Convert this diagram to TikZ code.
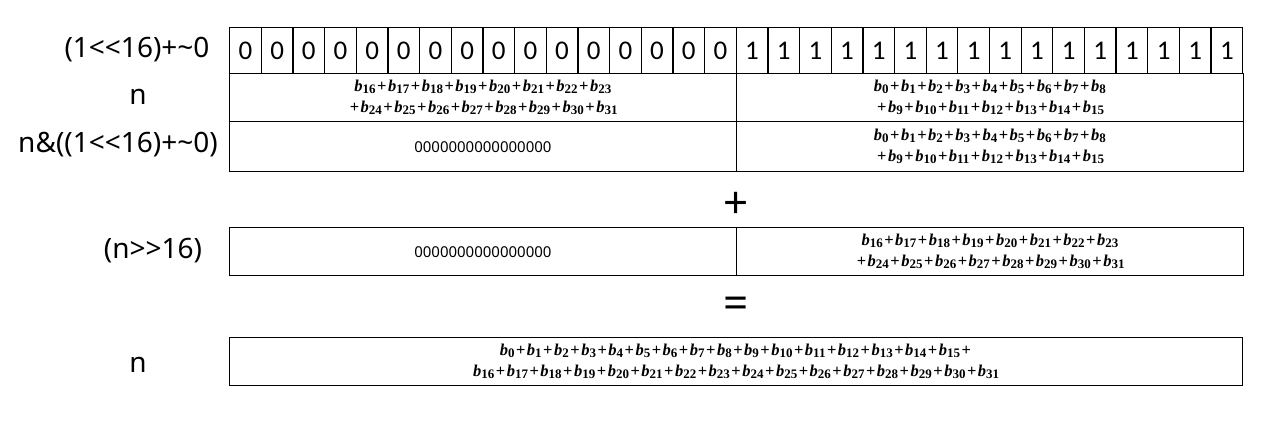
\documentclass[tikz,border=0pt]{standalone}
\usepackage{fontspec}
\setmainfont{Noto Sans}
\newfontfamily\cellfont{Carlito}
\newfontfamily\formfont{Liberation Serif}
\usetikzlibrary{positioning}

% one bold term b with its subscript, and a spaced plus
\newcommand\bb[1]{\textit{b}\raisebox{-0.3ex}{\fontsize{13}{13}\selectfont#1}}
\newcommand\pl{\kern1.5pt+\kern1.5pt}

\tikzset{
  bitcell/.style={draw, line width=1.3pt, inner sep=0pt, anchor=north west,
    minimum width=31.66pt, minimum height=46pt,
    font=\cellfont\fontsize{27}{27}\selectfont},
  halfbox/.style={draw, line width=1.3pt, inner sep=0pt, anchor=north west,
    minimum width=506.5pt, minimum height=48pt, align=center,
    font=\formfont\bfseries\fontsize{16.5}{21}\selectfont},
  fullbox/.style={halfbox, minimum width=1013pt},
  zerotext/.style={font=\fontsize{15}{15}\selectfont},
  rowlabel/.style={inner sep=0pt, font=\fontsize{28}{28}\selectfont},
  opsign/.style={inner sep=0pt, font=\fontsize{44}{44}\selectfont}
}

\begin{document}
\begin{tikzpicture}[x=1pt,y=-1pt]
  \useasboundingbox (0,0) rectangle (1273,420);

  % the mask, one cell per bit
  \foreach \i in {0,...,31}
    \node[bitcell] (bit\i) at ({229+31.66*\i},27) {\ifnum\i<16 0\else 1\fi};

  \node[halfbox] (nhi) at (229,73)
    {\bb{16}\pl\bb{17}\pl\bb{18}\pl\bb{19}\pl\bb{20}\pl\bb{21}\pl\bb{22}\pl\bb{23}\\
     \pl\bb{24}\pl\bb{25}\pl\bb{26}\pl\bb{27}\pl\bb{28}\pl\bb{29}\pl\bb{30}\pl\bb{31}};
  \node[halfbox] (nlo) at (736,73)
    {\bb{0}\pl\bb{1}\pl\bb{2}\pl\bb{3}\pl\bb{4}\pl\bb{5}\pl\bb{6}\pl\bb{7}\pl\bb{8}\\
     \pl\bb{9}\pl\bb{10}\pl\bb{11}\pl\bb{12}\pl\bb{13}\pl\bb{14}\pl\bb{15}};

  \node[halfbox, minimum height=50pt, zerotext] (mhi) at (229,121) {0000000000000000};
  \node[halfbox, minimum height=50pt] (mlo) at (736,121)
    {\bb{0}\pl\bb{1}\pl\bb{2}\pl\bb{3}\pl\bb{4}\pl\bb{5}\pl\bb{6}\pl\bb{7}\pl\bb{8}\\
     \pl\bb{9}\pl\bb{10}\pl\bb{11}\pl\bb{12}\pl\bb{13}\pl\bb{14}\pl\bb{15}};

  \node[opsign] (plus) at (736,205) {+};

  \node[halfbox, zerotext] (shi) at (229,227) {0000000000000000};
  \node[halfbox] (slo) at (736,227)
    {\bb{16}\pl\bb{17}\pl\bb{18}\pl\bb{19}\pl\bb{20}\pl\bb{21}\pl\bb{22}\pl\bb{23}\\
     \pl\bb{24}\pl\bb{25}\pl\bb{26}\pl\bb{27}\pl\bb{28}\pl\bb{29}\pl\bb{30}\pl\bb{31}};

  \node[opsign] (eq) at (736,308) {=};

  \node[fullbox] (sum) at (229,337)
    {\bb{0}\pl\bb{1}\pl\bb{2}\pl\bb{3}\pl\bb{4}\pl\bb{5}\pl\bb{6}\pl\bb{7}\pl\bb{8}\pl\bb{9}\pl\bb{10}\pl\bb{11}\pl\bb{12}\pl\bb{13}\pl\bb{14}\pl\bb{15}\pl\\
     \bb{16}\pl\bb{17}\pl\bb{18}\pl\bb{19}\pl\bb{20}\pl\bb{21}\pl\bb{22}\pl\bb{23}\pl\bb{24}\pl\bb{25}\pl\bb{26}\pl\bb{27}\pl\bb{28}\pl\bb{29}\pl\bb{30}\pl\bb{31}};

  % row labels
  \node[rowlabel] (lmask) at (137,50) {(1<\kern0pt<16)+\textasciitilde0};
  \node[rowlabel] (lnum) at (138,97) {n};
  \node[rowlabel] (lmasked) at (118,145) {n\&((1<\kern0pt<16)+\textasciitilde0)};
  \node[rowlabel] (lshift) at (153,251) {(n>\kern0pt>16)};
  \node[rowlabel] (lsum) at (138,365) {n};
\end{tikzpicture}
\end{document}
